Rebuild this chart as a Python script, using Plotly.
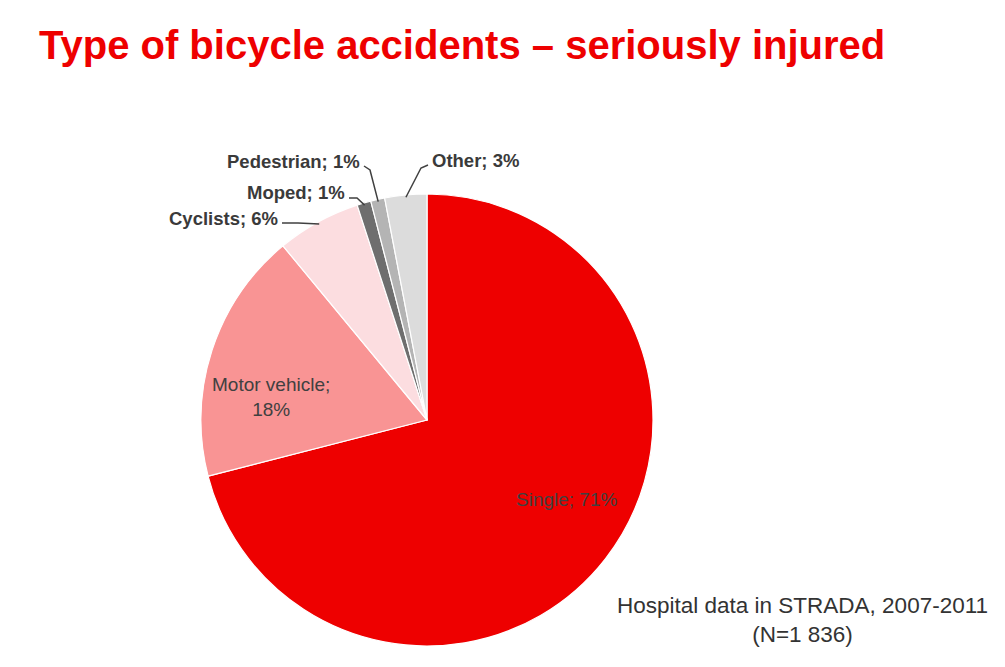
import math
import plotly.graph_objects as go

# ---- data ----
categories = ["Single", "Motor vehicle", "Cyclists", "Moped", "Pedestrian", "Other"]
shares = [71, 18, 6, 1, 1, 3]
colors = ["#EE0000", "#F99494", "#FCDDE0", "#6E6E6E", "#B4B4B4", "#DCDCDC"]
title_text = "Type of bicycle accidents \u2013 seriously injured"
source_lines = ["Hospital data in STRADA, 2007-2011", "(N=1 836)"]

W, H = 1005, 667
CX, CY, R = 427, 420, 226  # pie centre / radius in pixels (layout)

dom_x = [(CX - R) / W, (CX + R) / W]
dom_y = [1 - (CY + R) / H, 1 - (CY - R) / H]

def px(x, y):
    return x / W, 1 - y / H

labels_text = [f"{c}; {v}%" for c, v in zip(categories, shares)]

fig = go.Figure(go.Pie(
    labels=categories, values=shares, sort=False, direction="clockwise", rotation=0,
    marker=dict(colors=colors, line=dict(color="white", width=1.2)),
    textinfo="none", hoverinfo="label+percent", showlegend=False,
    domain=dict(x=dom_x, y=dom_y),
))

# slice mid-angles from data
total = sum(shares)
cum = 0
mids = []
for v in shares:
    mids.append((cum + v / 2) / total * 2 * math.pi)
    cum += v

annotations = []
shapes = []
font_lbl = dict(family="Liberation Sans, Arial, sans-serif", size=19, color="#404040")

# inside labels (Single, Motor vehicle)
inside_pos = {0: (567, 500), 1: (271, 397)}
inside_txt = {0: labels_text[0], 1: f"{categories[1]};<br>{shares[1]}%"}
for i, (x, y) in inside_pos.items():
    xx, yy = px(x, y)
    annotations.append(dict(x=xx, y=yy, xref="paper", yref="paper", text=inside_txt[i],
                            showarrow=False, font=font_lbl, align="center",
                            xanchor="center", yanchor="middle"))

# outside labels with leader lines: (label anchor px, xanchor, elbow px)
outside = {
    2: ((280, 218), "right", (298, 218)),
    3: ((347, 193), "right", (357, 193)),
    4: ((362, 161), "right", (370, 163)),
    5: ((430, 160), "left", (421, 161)),
}
for i, ((lx, ly), xa, (ex, ey)) in outside.items():
    a = mids[i]
    tx = CX + R * 0.99 * math.sin(a)
    ty = CY - R * 0.99 * math.cos(a)
    xx, yy = px(lx, ly)
    annotations.append(dict(x=xx, y=yy, xref="paper", yref="paper", text=labels_text[i],
                            showarrow=False, xanchor=xa, yanchor="middle",
                            font=dict(family="Liberation Sans, Arial, sans-serif", size=18.5,
                                      color="#3A3A3A", weight="bold")))
    sx, sy = (lx + 2, ly + 5) if xa == "right" else (lx - 2, ly + 5)
    p = [px(sx, sy), px(ex, ey + 5 if i in (2, 3) else ey + 7), px(tx, ty)]
    path = "M {} {} L {} {} L {} {}".format(p[0][0], p[0][1], p[1][0], p[1][1], p[2][0], p[2][1])
    shapes.append(dict(type="path", path=path, xref="paper", yref="paper",
                       line=dict(color="#404040", width=1.5)))

# title
annotations.append(dict(x=px(37, 0)[0], y=px(0, 45)[1], xref="paper", yref="paper",
                        text=f"<b>{title_text}</b>", showarrow=False, xanchor="left",
                        yanchor="middle",
                        font=dict(family="Liberation Sans Narrow, Arial Narrow, Liberation Sans, Arial",
                                  size=40, color="#EE0000")))
# source note
annotations.append(dict(x=px(802, 0)[0], y=px(0, 620)[1], xref="paper", yref="paper",
                        text="<br>".join(source_lines), showarrow=False, align="center",
                        xanchor="center", yanchor="middle",
                        font=dict(family="Liberation Sans, Arial, sans-serif", size=22.5,
                                  color="#333333")))

fig.update_layout(width=W, height=H, margin=dict(l=0, r=0, t=0, b=0),
                  paper_bgcolor="white", plot_bgcolor="white",
                  annotations=annotations, shapes=shapes)

fig.write_html("out.html")
